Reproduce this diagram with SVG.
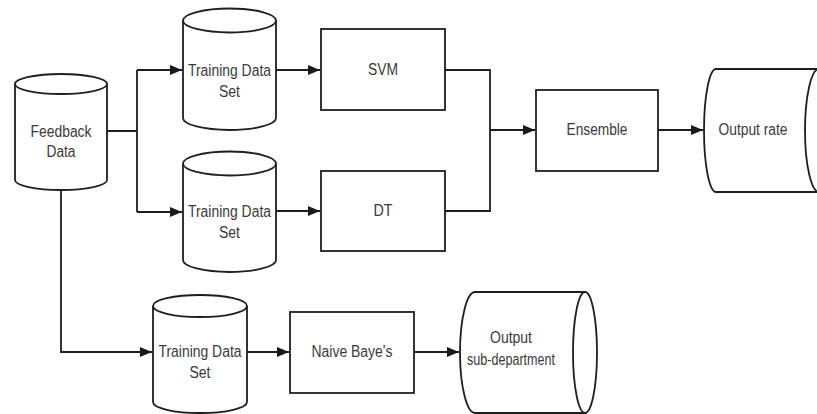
<svg xmlns="http://www.w3.org/2000/svg" width="817" height="414" viewBox="0 0 817 414">
  <defs>
    <marker id="arrow" viewBox="0 0 12 10" refX="12" refY="5" markerWidth="12" markerHeight="10" markerUnits="userSpaceOnUse" orient="auto">
      <path d="M0,0 L12,5 L0,10 z" fill="#1a1a1a"/>
    </marker>
    <style>
      .shape { fill: #ffffff; stroke: #1e1e1e; stroke-width: 1.8; }
      .edge { fill: none; stroke: #1e1e1e; stroke-width: 1.8; }
      .arr { marker-end: url(#arrow); }
      text { font-family: "Liberation Sans", Arial, sans-serif; font-size: 16px; fill: #3a3a3a; text-anchor: middle; }
    </style>
  </defs>
  <rect width="817" height="414" fill="#ffffff"/>

  <!-- connectors -->
  <g id="connectors">
    <path class="edge" d="M107,131 H137 M137,70 V212"/>
    <path class="edge arr" d="M137,70 H182"/>
    <path class="edge arr" d="M137,212 H182"/>
    <path class="edge arr" d="M61,190 V352 H152"/>
    <path class="edge arr" d="M276,70 H320"/>
    <path class="edge arr" d="M276,211 H320"/>
    <path class="edge" d="M445,70 H490 V211 H445"/>
    <path class="edge arr" d="M490,130 H535"/>
    <path class="edge arr" d="M658,130 H703"/>
    <path class="edge arr" d="M247,352 H289"/>
    <path class="edge arr" d="M414,352 H459"/>
  </g>

  <!-- data store: feedback -->
  <g id="feedback-data">
    <path class="shape" d="M15,84 V180 A46 10 0 0 0 107,180 V84"/>
    <ellipse class="shape" cx="61" cy="84" rx="46" ry="10"/>
    <text x="61" y="137" textLength="61" lengthAdjust="spacingAndGlyphs">Feedback</text>
    <text x="61" y="157" textLength="29" lengthAdjust="spacingAndGlyphs">Data</text>
  </g>

  <!-- training sets -->
  <g id="training-set-1">
    <path class="shape" d="M183,20.5 V118 A46.5 12 0 0 0 276,118 V20.5"/>
    <ellipse class="shape" cx="229.5" cy="20.5" rx="46.5" ry="12"/>
    <text x="229.5" y="76" textLength="83" lengthAdjust="spacingAndGlyphs">Training Data</text>
    <text x="229.5" y="97" textLength="21" lengthAdjust="spacingAndGlyphs">Set</text>
  </g>
  <g id="training-set-2">
    <path class="shape" d="M183,163.5 V260 A46.5 12 0 0 0 276,260 V163.5"/>
    <ellipse class="shape" cx="229.5" cy="163.5" rx="46.5" ry="12"/>
    <text x="229.5" y="217" textLength="83" lengthAdjust="spacingAndGlyphs">Training Data</text>
    <text x="229.5" y="238" textLength="21" lengthAdjust="spacingAndGlyphs">Set</text>
  </g>
  <g id="training-set-3">
    <path class="shape" d="M153,306 V402 A47 11 0 0 0 247,402 V306"/>
    <ellipse class="shape" cx="200" cy="306" rx="47" ry="11"/>
    <text x="200" y="357" textLength="83" lengthAdjust="spacingAndGlyphs">Training Data</text>
    <text x="200" y="378" textLength="21" lengthAdjust="spacingAndGlyphs">Set</text>
  </g>

  <!-- classifiers -->
  <g id="svm">
    <rect class="shape" x="321" y="29" width="124" height="81"/>
    <text x="383" y="75" textLength="30" lengthAdjust="spacingAndGlyphs">SVM</text>
  </g>
  <g id="dt">
    <rect class="shape" x="321" y="171" width="124" height="80"/>
    <text x="383" y="216" textLength="19" lengthAdjust="spacingAndGlyphs">DT</text>
  </g>
  <g id="ensemble">
    <rect class="shape" x="536" y="90" width="122" height="81"/>
    <text x="597" y="135" textLength="61" lengthAdjust="spacingAndGlyphs">Ensemble</text>
  </g>
  <g id="naive-bayes">
    <rect class="shape" x="290" y="312" width="124" height="81"/>
    <text x="352" y="357" textLength="81" lengthAdjust="spacingAndGlyphs">Naive Baye's</text>
  </g>

  <!-- outputs (horizontal stores) -->
  <g id="output-rate">
    <path class="shape" d="M716,69 H819 V192 H716 A12 61.5 0 0 1 716,69 z"/>
    <ellipse class="shape" cx="819" cy="130.5" rx="14" ry="61.5"/>
    <text x="753" y="135" textLength="69" lengthAdjust="spacingAndGlyphs">Output rate</text>
  </g>
  <g id="output-sub-department">
    <path class="shape" d="M475,292 H585 V413 H475 A15 60.5 0 0 1 475,292 z"/>
    <ellipse class="shape" cx="585" cy="352.5" rx="12" ry="60.5"/>
    <text x="511" y="343" textLength="42" lengthAdjust="spacingAndGlyphs">Output</text>
    <text x="511" y="365" textLength="88" lengthAdjust="spacingAndGlyphs">sub-department</text>
  </g>
</svg>
